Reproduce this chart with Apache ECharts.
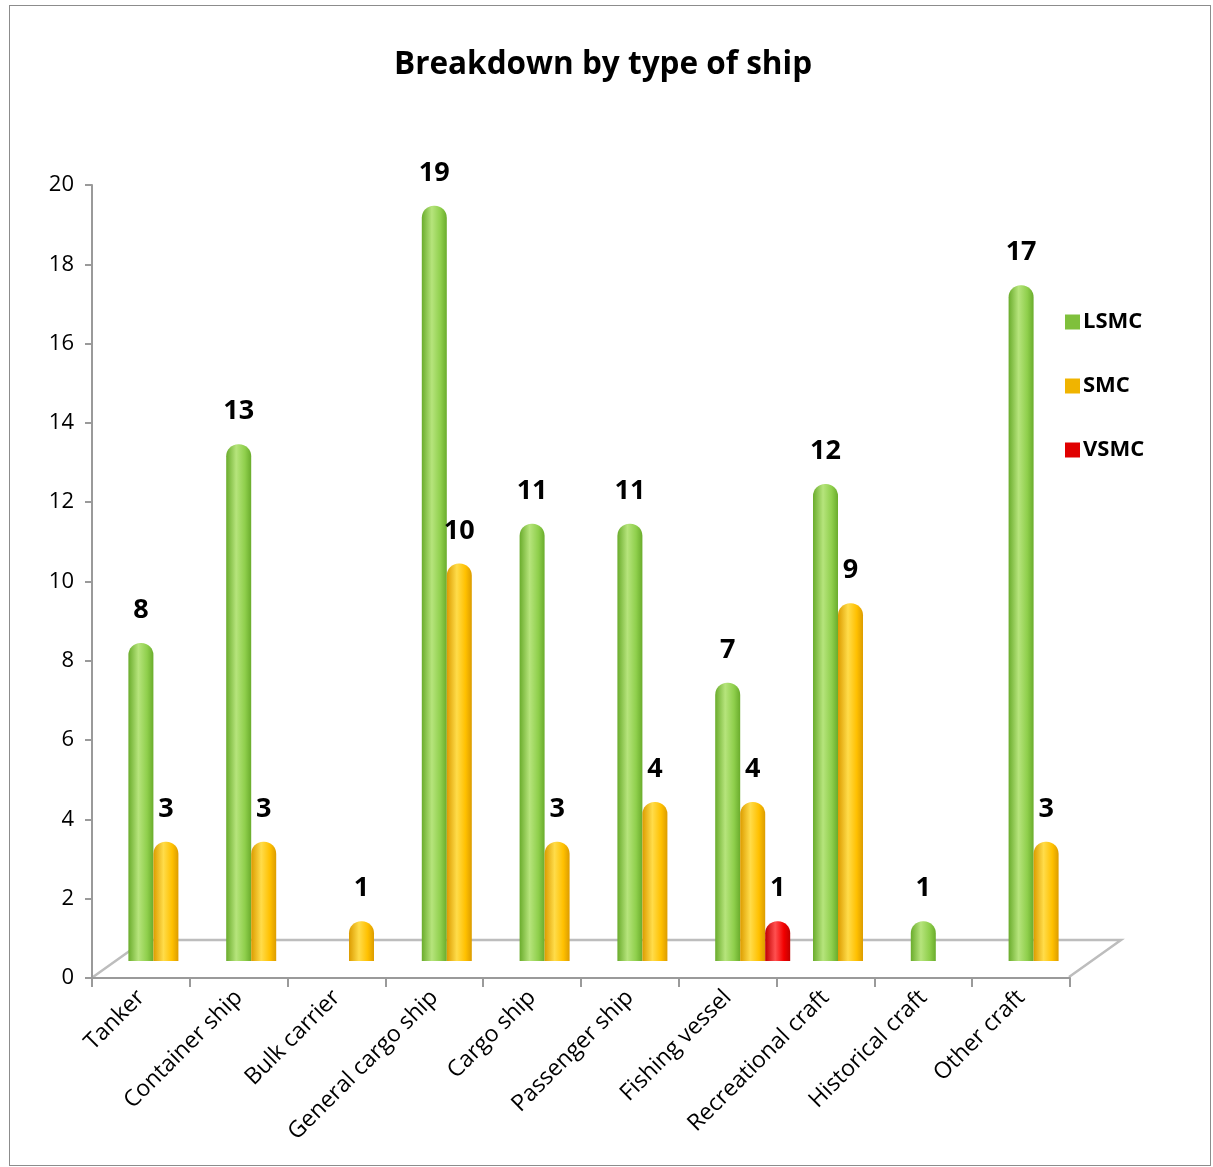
<!DOCTYPE html>
<html>
<head>
<meta charset="utf-8">
<script src="https://cdn.jsdelivr.net/npm/echarts@6/dist/echarts.min.js"></script>
<style>
  html, body { margin: 0; padding: 0; background: #fff; }
  #frame { position: absolute; left: 9px; top: 5px; width: 1200px; height: 1159px; border: 1px solid #8c8c8c; }
  #chart { position: absolute; left: 0; top: 0; width: 1213px; height: 1167px; }
</style>
</head>
<body>
<div id="frame"></div>
<div id="chart"></div>
<script>
// categories & values
var shipTypes = ['Tanker', 'Container ship', 'Bulk carrier', 'General cargo ship', 'Cargo ship',
  'Passenger ship', 'Fishing vessel', 'Recreational craft', 'Historical craft', 'Other craft'];
var lsmc = [8, 13, null, 19, 11, 11, 7, 12, 1, 17];
var smc  = [3, 3, 1, 10, 3, 4, 4, 9, null, 3];
var vsmc = [null, null, null, null, null, null, 1, null, null, null];

var FONT = '"Open Sans", "Noto Sans", sans-serif';

// cylinder look: horizontal gradient
function cyl(dark, mid, light) {
  return new echarts.graphic.LinearGradient(0, 0, 1, 0, [
    { offset: 0, color: dark },
    { offset: 0.4, color: light },
    { offset: 0.75, color: mid },
    { offset: 1, color: dark }
  ]);
}

var myChart = echarts.init(document.getElementById('chart'));

function barSeries(name, data, fill) {
  return {
    name: name,
    type: 'bar',
    xAxisIndex: 1,
    yAxisIndex: 1,
    data: data,
    barWidth: 25,
    barGap: '0%',
    itemStyle: { color: fill, borderRadius: [12, 12, 0, 0] },
    label: {
      show: true,
      position: 'top',
      distance: 19,
      fontFamily: FONT,
      fontWeight: 'bold',
      fontSize: 27,
      color: '#000'
    }
  };
}

var option = {
  animation: false,
  backgroundColor: 'transparent',
  title: {
    text: 'Breakdown by type of ship',
    left: 389,
    top: 44,
    textStyle: { fontFamily: FONT, fontWeight: 'bold', fontSize: 31.5, color: '#000' }
  },
  legend: {
    orient: 'vertical',
    left: 1060,
    top: 306,
    itemWidth: 15,
    itemHeight: 15,
    itemGap: 42,
    icon: 'rect',
    textStyle: { fontFamily: FONT, fontWeight: 'bold', fontSize: 22, color: '#000', padding: [0, 0, 0, -2] },
    data: [
      { name: 'LSMC', itemStyle: { color: '#7fc03c' } },
      { name: 'SMC', itemStyle: { color: '#f0b400' } },
      { name: 'VSMC', itemStyle: { color: '#e00000' } }
    ]
  },
  grid: [
    // front plane: visible axes
    { left: 92, right: 143, top: 185, bottom: 189 },
    // back plane: bars sit on the floor, shifted by depth
    { left: 117, right: 118, top: 166, bottom: 206 }
  ],
  xAxis: [
    {
      type: 'category',
      gridIndex: 0,
      data: shipTypes,
      axisLine: { lineStyle: { color: '#9a9a9a', width: 2 } },
      axisTick: { show: true, length: 9, lineStyle: { color: '#9a9a9a', width: 2 } },
      axisLabel: {
        interval: 0,
        rotate: 45,
        margin: 16,
        fontFamily: FONT,
        fontSize: 23,
        color: '#000'
      }
    },
    {
      type: 'category',
      gridIndex: 1,
      data: shipTypes,
      show: false
    }
  ],
  yAxis: [
    {
      type: 'value',
      gridIndex: 0,
      min: 0,
      max: 20,
      interval: 2,
      axisLine: { show: true, lineStyle: { color: '#9a9a9a', width: 2 } },
      axisTick: { show: true, length: 7, lineStyle: { color: '#9a9a9a', width: 2 } },
      splitLine: { show: false },
      axisLabel: { margin: 18, fontFamily: FONT, fontSize: 22, color: '#000' }
    },
    {
      type: 'value',
      gridIndex: 1,
      min: 0,
      max: 20,
      show: false,
      splitLine: { show: false }
    }
  ],
  graphic: [
    {
      type: 'polyline',
      z: 0,
      shape: { points: [[93, 977], [145, 940], [1121, 940], [1069, 977]] },
      style: { stroke: '#bdbdbd', lineWidth: 2.5, fill: null }
    }
  ],
  series: [
    barSeries('LSMC', lsmc, cyl('#6aac2c', '#8fcf4c', '#b6e47c')),
    barSeries('SMC', smc, cyl('#dc9c00', '#ffc000', '#ffdc4a')),
    barSeries('VSMC', vsmc, cyl('#c00000', '#f20000', '#ff5050'))
  ]
};

myChart.setOption(option);
</script>
</body>
</html>
